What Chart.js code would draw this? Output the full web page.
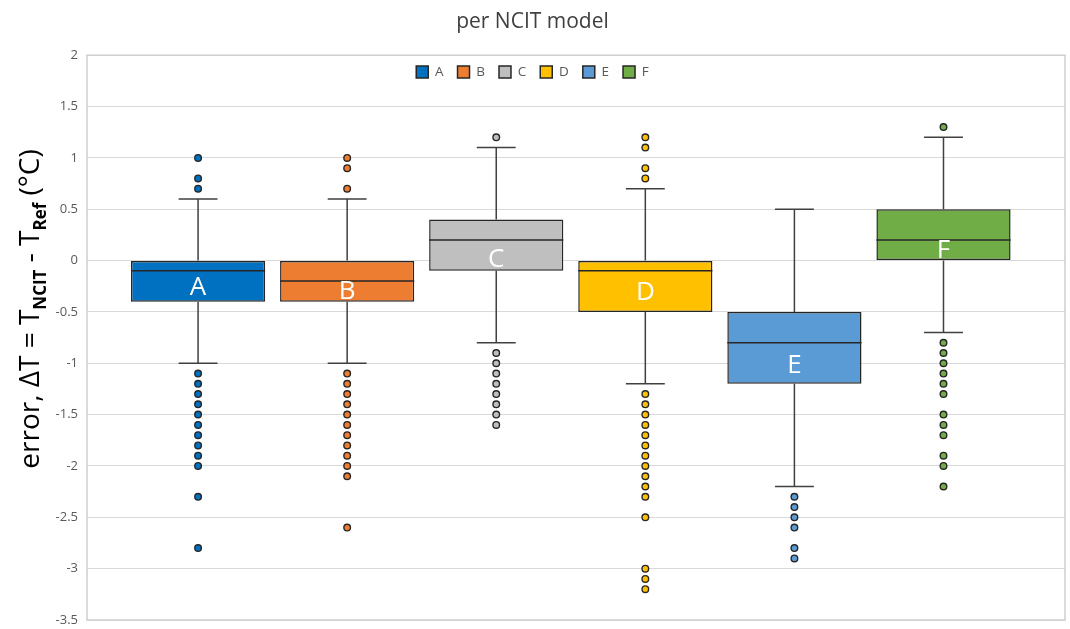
<!DOCTYPE html>
<html><head><meta charset="utf-8">
<script src="https://cdn.jsdelivr.net/npm/chart.js@4.4.1/dist/chart.umd.min.js"></script>
<style>html,body{margin:0;padding:0;background:#fff;}</style>
</head><body>
<canvas id="c" width="1070" height="629"></canvas>
<script>
const categories = ['A', 'B', 'C', 'D', 'E', 'F'];
const colors = ['#0070C0', '#ED7D31', '#BFBFBF', '#FFC000', '#5B9BD5', '#70AD47'];
const q1 = [-0.4, -0.4, -0.1, -0.5, -1.2, 0.0];
const q3 = [0.0, 0.0, 0.4, 0.0, -0.5, 0.5];
const medians = [-0.1, -0.2, 0.2, -0.1, -0.8, 0.2];
const whiskerLow = [-1.0, -1.0, -0.8, -1.2, -2.2, -0.7];
const whiskerHigh = [0.6, 0.6, 1.1, 0.7, 0.5, 1.2];
const means = [-0.26, -0.30, 0.01, -0.31, -1.02, 0.10];
const outliersA = [1.0, 0.8, 0.7, -1.1, -1.2, -1.3, -1.4, -1.5, -1.6, -1.7, -1.8, -1.9, -2.0, -2.3, -2.8];
const outliersB = [1.0, 0.9, 0.7, -1.1, -1.2, -1.3, -1.4, -1.5, -1.6, -1.7, -1.8, -1.9, -2.0, -2.1, -2.6];
const outliersC = [1.2, -0.9, -1.0, -1.1, -1.2, -1.3, -1.4, -1.5, -1.6];
const outliersD = [1.2, 1.1, 0.9, 0.8, -1.3, -1.4, -1.5, -1.6, -1.7, -1.8, -1.9, -2.0, -2.1, -2.2, -2.3, -2.5, -3.0, -3.1, -3.2];
const outliersE = [-2.3, -2.4, -2.5, -2.6, -2.8, -2.9];
const outliersF = [1.3, -0.8, -0.9, -1.0, -1.1, -1.2, -1.3, -1.5, -1.6, -1.7, -1.9, -2.0, -2.2];
const outliers = [outliersA, outliersB, outliersC, outliersD, outliersE, outliersF];
const yTicks = [2, 1.5, 1, 0.5, 0, -0.5, -1, -1.5, -2, -2.5, -3, -3.5];

const FONT = '"Open Sans", "DejaVu Sans", sans-serif';

const datasets = [];
categories.forEach((c, i) => {
  datasets.push({
    type: 'bar', label: c,
    data: [{ x: i, y: [q1[i], q3[i]] }],
    backgroundColor: colors[i], borderColor: '#262626', borderWidth: 1.5,
    borderSkipped: false, grouped: false,
    barPercentage: 0.9, categoryPercentage: 1, order: 2
  });
});
categories.forEach((c, i) => {
  datasets.push({
    type: 'line', label: c + ' outliers',
    data: outliers[i].map(v => ({ x: i, y: v })),
    showLine: false, pointRadius: 3.3, pointHoverRadius: 3.3,
    pointBackgroundColor: colors[i], pointBorderColor: '#262626', pointBorderWidth: 1.4,
    order: 0
  });
});

const frame = {
  id: 'frame',
  beforeDatasetsDraw(chart) {
    const { ctx, chartArea: a } = chart;
    ctx.save();
    ctx.strokeStyle = '#CFCFCF'; ctx.lineWidth = 1.5;
    ctx.strokeRect(a.left, a.top, a.right - a.left, a.bottom - a.top);
    ctx.restore();
  }
};

const boxParts = {
  id: 'boxParts',
  beforeDatasetsDraw(chart) {
    const { ctx, scales: { x, y } } = chart;
    ctx.save();
    ctx.strokeStyle = '#404040'; ctx.lineWidth = 1.5;
    categories.forEach((c, i) => {
      const bar = chart.getDatasetMeta(i).data[0];
      const cx = x.getPixelForValue(i);
      const cap = bar.width * 0.145;
      ctx.beginPath();
      ctx.moveTo(cx, y.getPixelForValue(q3[i])); ctx.lineTo(cx, y.getPixelForValue(whiskerHigh[i]));
      ctx.moveTo(cx - cap, y.getPixelForValue(whiskerHigh[i])); ctx.lineTo(cx + cap, y.getPixelForValue(whiskerHigh[i]));
      ctx.moveTo(cx, y.getPixelForValue(q1[i])); ctx.lineTo(cx, y.getPixelForValue(whiskerLow[i]));
      ctx.moveTo(cx - cap, y.getPixelForValue(whiskerLow[i])); ctx.lineTo(cx + cap, y.getPixelForValue(whiskerLow[i]));
      ctx.stroke();
    });
    ctx.restore();
  },
  afterDatasetsDraw(chart) {
    const { ctx, scales: { x, y } } = chart;
    ctx.save();
    categories.forEach((c, i) => {
      const bar = chart.getDatasetMeta(i).data[0];
      const cx = x.getPixelForValue(i);
      const my = y.getPixelForValue(medians[i]);
      ctx.strokeStyle = '#262626'; ctx.lineWidth = 1.5;
      ctx.beginPath();
      ctx.moveTo(cx - bar.width / 2, my); ctx.lineTo(cx + bar.width / 2, my);
      ctx.stroke();
      ctx.fillStyle = '#FFFFFF';
      ctx.font = '26px ' + FONT;
      ctx.textAlign = 'center'; ctx.textBaseline = 'middle';
      ctx.fillText(c, cx, y.getPixelForValue(means[i]));
    });
    ctx.restore();
  }
};

const yTitle = {
  id: 'yTitle',
  afterDraw(chart) {
    const ctx = chart.ctx;
    const parts = [
      ['error, \u0394T = T', '28px ' + FONT, 0],
      ['NCIT', 'bold 17px ' + FONT, 7],
      [' - T', '28px ' + FONT, 0],
      ['Ref', 'bold 17px ' + FONT, 7],
      [' (\u00B0C)', '28px ' + FONT, 0]
    ];
    ctx.save();
    let total = 0;
    parts.forEach(p => { ctx.font = p[1]; total += ctx.measureText(p[0]).width; });
    ctx.translate(39, 309);
    ctx.rotate(-Math.PI / 2);
    ctx.fillStyle = '#000000';
    ctx.textBaseline = 'alphabetic';
    ctx.textAlign = 'left';
    let xpos = -total / 2;
    parts.forEach(p => {
      ctx.font = p[1];
      ctx.fillText(p[0], xpos, p[2]);
      xpos += ctx.measureText(p[0]).width;
    });
    ctx.restore();
  }
};

const legendInside = {
  id: 'legendInside',
  afterInit(chart) {
    const lg = chart.legend;
    if (!lg) return;
    const origFit = lg.fit.bind(lg);
    lg.fit = function () { origFit(); this._realH = this.height; this.height = 0; };
  },
  afterLayout(chart) {
    const lg = chart.legend;
    if (!lg) return;
    lg.top = chart.chartArea.top - 4;
    lg.bottom = lg.top + (lg._realH || 30);
  }
};

new Chart(document.getElementById('c'), {
  type: 'bar',
  data: { datasets },
  plugins: [frame, boxParts, yTitle, legendInside],
  options: {
    responsive: false, animation: false,
    layout: { padding: { left: 0, right: 5, top: 0, bottom: 9 } },
    plugins: {
      title: {
        display: true, text: 'per NCIT model', color: '#404040',
        font: { family: FONT, size: 21, weight: 'normal' },
        padding: { top: 9, bottom: 21 }
      },
      legend: {
        display: true, position: 'top',
        labels: {
          filter: item => item.datasetIndex < categories.length,
          boxWidth: 12, boxHeight: 12, padding: 14, color: '#595959',
          font: { family: FONT, size: 13.5 }
        }
      },
      tooltip: { enabled: false }
    },
    scales: {
      x: {
        type: 'linear', display: false, offset: false, min: -0.745, max: 5.815,
        afterBuildTicks: s => { s.ticks = categories.map((c, i) => ({ value: i })); },
        grid: { display: false }
      },
      y: {
        type: 'linear', min: -3.5, max: 2,
        afterBuildTicks: s => { s.ticks = yTicks.map(v => ({ value: v })); },
        afterFit: s => { s.width = 87; s.paddingTop = 0; s.paddingBottom = 0; },
        grid: { color: '#D9D9D9', lineWidth: 1, drawTicks: false },
        border: { display: false },
        ticks: {
          padding: 9, color: '#595959', font: { family: FONT, size: 13 },
          callback: v => String(v)
        }
      }
    }
  }
});
</script>
</body></html>
